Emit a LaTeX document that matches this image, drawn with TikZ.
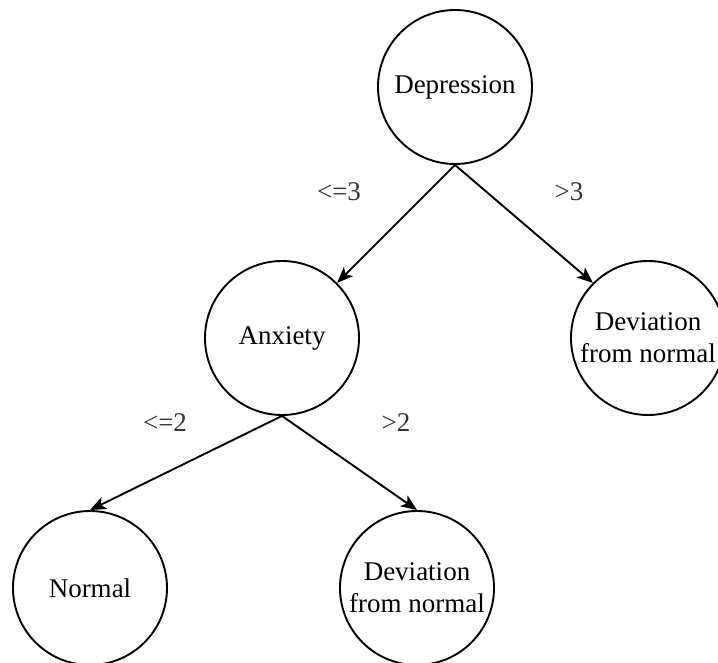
\documentclass[tikz,border=0pt]{standalone}
\usepackage{fontspec}
\setmainfont{Liberation Serif}
\usetikzlibrary{arrows.meta}
\begin{document}
\begin{tikzpicture}[x=1pt,y=-1pt,
  circ/.style={draw, circle, line width=1.9pt, minimum size=154pt, inner sep=0pt, align=center,
    font=\fontsize{27}{32}\selectfont},
  arr/.style={line width=1.9pt, -{Stealth[length=16pt,width=13pt,inset=4pt]}},
  lbl/.style={font=\fontsize{27}{32}\selectfont, text=black!80, inner sep=0pt}]
\useasboundingbox (0,0) rectangle (718,663);
\clip (0,0) rectangle (718,663);
\node[circ] (dep) at (455,87) {Depression};
\node[circ] (anx) at (282,338) {Anxiety};
\node[circ] (dr) at (648,338) {Deviation\\from normal};
\node[circ] (nor) at (90,588) {Normal};
\node[circ] (db) at (417,588) {Deviation\\from normal};
\draw[arr] (dep.south) -- (anx.45);
\draw[arr] (dep.south) -- (dr.135);
\draw[arr] (anx.south) -- (nor.north);
\draw[arr] (anx.south) -- (db.north);
\node[lbl] (l1) at (339,192) {<=3};
\node[lbl] (l2) at (569,192) {>3};
\node[lbl] (l3) at (165,423) {<=2};
\node[lbl] (l4) at (396,423) {>2};
\end{tikzpicture}
\end{document}
